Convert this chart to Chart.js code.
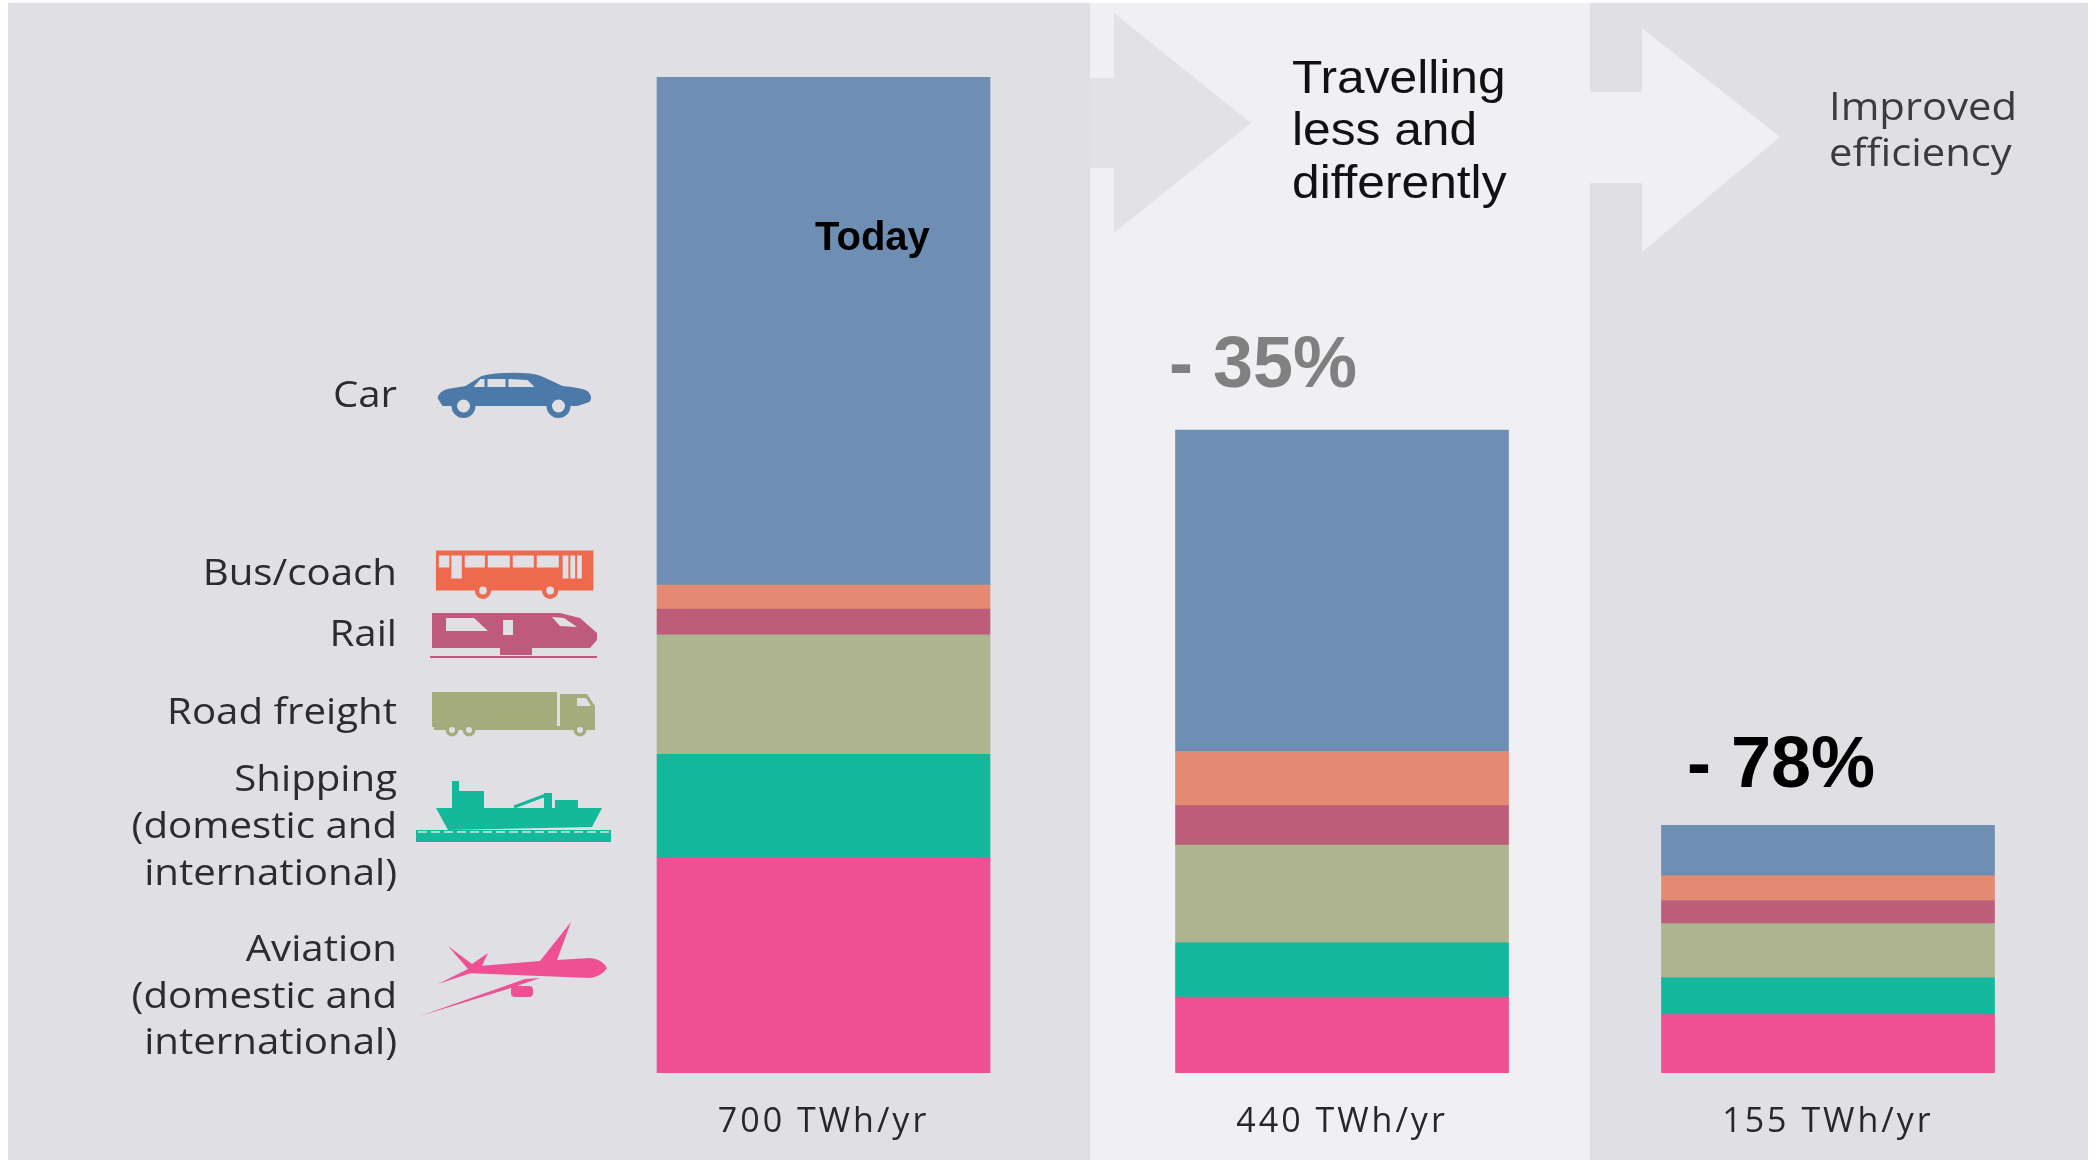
<!DOCTYPE html>
<html lang="en">
<head>
<meta charset="utf-8">
<title>Transport energy demand</title>
<script src="https://cdn.jsdelivr.net/npm/chart.js@4/dist/chart.umd.min.js"></script>
<style>
  html, body { margin: 0; padding: 0; background: #ffffff; }
  canvas { display: block; }
</style>
</head>
<body>
<canvas id="chart" width="2099" height="1160"></canvas>
<script>
// Energy demand by transport mode, TWh per year, for each stage
const stages = ['Today', 'Travelling less and differently', 'Improved efficiency'];
const stageTotals = [700, 440, 155];
const totalLabels = ['700 TWh/yr', '440 TWh/yr', '155 TWh/yr'];
const reductions = ['', '- 35%', '- 78%'];

const modes = ['Aviation', 'Shipping', 'Road freight', 'Rail', 'Bus/coach', 'Car'];
const aviation = [151, 52, 36.5];
const shipping = [73, 37, 23];
const roadFreight = [84, 67, 34];
const rail = [18, 27, 14.5];
const busCoach = [17, 37, 15.5];
const car = [357, 220, 31.5];
const modeValues = [aviation, shipping, roadFreight, rail, busCoach, car];
const modeColours = ['#ef4f93', '#12b79c', '#adb48f', '#bc5d79', '#e58a72', '#6e8fb3'];

// Each column has its own vertical scale; the columns are sized for comparison, not to one ruler
const stageSlots = [0, 1.0324, 2];
const axisTops = [700, 681.6, 623.5];
const axisIds = ['yToday', 'yTravel', 'yEfficiency'];

const datasets = [];
stages.forEach((stage, s) => {
  modes.forEach((mode, m) => {
    datasets.push({
      label: mode + ' – ' + stage,
      data: [{ x: stageSlots[s], y: modeValues[m][s] }],
      backgroundColor: modeColours[m],
      yAxisID: axisIds[s],
      stack: axisIds[s],
      barThickness: 333,
      grouped: false
    });
  });
});

const hiddenAxis = top => ({ display: false, stacked: true, min: 0, max: top });

const PAGE = '#e0e0e4';
const PALE = '#f0f0f4';

// Two-tone backdrop with the step arrows between the columns
const backdrop = {
  id: 'backdrop',
  beforeDraw(chart) {
    const c = chart.ctx;
    c.save();
    c.fillStyle = '#ffffff';
    c.fillRect(0, 0, 2099, 1160);
    c.fillStyle = PAGE;
    c.fillRect(8, 3, 2080, 1157);
    c.fillStyle = PALE;
    c.fillRect(1090, 3, 500, 1157);
    c.fillStyle = '#e2e2e6';
    poly(c, [[1090, 78], [1114, 78], [1114, 13], [1251, 123], [1114, 233], [1114, 168], [1090, 168]]);
    c.fillStyle = PALE;
    poly(c, [[1590, 92], [1642, 92], [1642, 28], [1780, 137], [1642, 252], [1642, 183], [1590, 183]]);
    c.restore();
    // the axis captions below the columns are set slightly open
    c.letterSpacing = '3px';
  }
};

function poly(c, pts) {
  c.beginPath();
  pts.forEach((p, i) => (i ? c.lineTo(p[0], p[1]) : c.moveTo(p[0], p[1])));
  c.closePath();
  c.fill();
}

function wheel(c, x, y, r, hole, colour, holeColour) {
  c.fillStyle = colour;
  c.beginPath(); c.arc(x, y, r, 0, Math.PI * 2); c.fill();
  c.fillStyle = holeColour;
  c.beginPath(); c.arc(x, y, hole, 0, Math.PI * 2); c.fill();
}

// Silhouettes of the transport modes, one local drawing per mode
const icons = {
  car(c) {
    const col = '#4c7aa8';
    c.fillStyle = col;
    c.beginPath();
    c.moveTo(0, 25);
    c.quadraticCurveTo(2, 18, 10, 16);
    c.lineTo(28, 13);
    c.lineTo(44, 3);
    c.quadraticCurveTo(60, -1, 85, 0);
    c.quadraticCurveTo(100, 0, 110, 6);
    c.lineTo(125, 13);
    c.quadraticCurveTo(145, 15, 150, 18);
    c.quadraticCurveTo(156, 24, 152, 29);
    c.lineTo(140, 33);
    c.lineTo(5, 33);
    c.closePath();
    c.fill();
    c.fillStyle = PAGE;
    poly(c, [[36, 14], [43, 6], [47, 6], [47, 14]]);
    c.fillRect(50, 6, 18, 8);
    poly(c, [[71, 6], [90, 7], [97, 14], [71, 14]]);
    wheel(c, 26, 33, 12, 6.5, col, PAGE);
    wheel(c, 121, 33, 12, 6.5, col, PAGE);
  },
  bus(c) {
    c.scale(0.96, 1);
    const col = '#ee6a4f';
    c.fillStyle = col;
    c.fillRect(2, 0, 164, 40);
    c.fillStyle = PAGE;
    [[5, 11], [32, 21], [56, 23], [82, 22], [107, 23]].forEach(w => c.fillRect(w[0], 5, w[1], 12));
    [[18, 11], [134, 6], [142, 5], [149, 5]].forEach(d => c.fillRect(d[0], 5, d[1], 23));
    wheel(c, 51, 40, 8.5, 4, col, PAGE);
    wheel(c, 121, 40, 8.5, 4, col, PAGE);
  },
  train(c) {
    const col = '#c05a7c';
    c.fillStyle = col;
    poly(c, [[2, 0], [130, 0], [150, 5], [167, 20], [167, 27], [160, 35], [2, 35]]);
    c.fillRect(70, 34, 32, 8);
    c.fillRect(0, 43, 167, 2);
    c.fillStyle = PAGE;
    poly(c, [[16, 5], [44, 5], [58, 18], [16, 18]]);
    c.fillRect(73, 7, 10, 15);
    poly(c, [[122, 4], [134, 5], [147, 14], [130, 13]]);
  },
  truck(c) {
    const col = '#a4ab7c';
    c.fillStyle = col;
    c.fillRect(0, 0, 125, 35);
    c.fillRect(2, 34, 160, 4);
    poly(c, [[128, 2], [155, 2], [163, 14], [163, 38], [128, 38]]);
    c.fillStyle = PAGE;
    poly(c, [[145, 6], [154, 6], [159, 14], [145, 14]]);
    wheel(c, 20, 38, 6.5, 3, col, PAGE);
    wheel(c, 37, 38, 6.5, 3, col, PAGE);
    wheel(c, 148, 38, 6.5, 3, col, PAGE);
  },
  ship(c) {
    const col = '#14b89b';
    c.fillStyle = col;
    c.fillRect(0, 49, 195, 12);
    poly(c, [[20, 27], [186, 27], [176, 46], [32, 49]]);
    c.fillRect(36, 0, 7, 12);
    c.fillRect(36, 10, 32, 18);
    c.fillRect(139, 19, 23, 9);
    c.fillRect(128, 12, 8, 16);
    c.strokeStyle = col;
    c.lineWidth = 3;
    c.beginPath(); c.moveTo(98, 26); c.lineTo(130, 14); c.stroke();
    c.strokeStyle = PAGE;
    c.lineWidth = 1.5;
    c.setLineDash([9, 4]);
    c.beginPath(); c.moveTo(2, 51); c.lineTo(193, 51); c.stroke();
  },
  plane(c) {
    c.fillStyle = '#ef4f93';
    c.beginPath();
    c.moveTo(187, 46);
    c.quadraticCurveTo(182, 37, 170, 36);
    c.lineTo(137, 38);
    c.lineTo(151, 0);
    c.lineTo(120, 39);
    c.lineTo(59, 44);
    c.lineTo(45, 51);
    c.lineTo(170, 56);
    c.quadraticCurveTo(182, 54, 187, 46);
    c.closePath();
    c.fill();
    poly(c, [[105, 57], [0, 94], [91, 66], [120, 56]]);
    poly(c, [[28, 24], [52, 42], [68, 31], [60, 48], [18, 62], [48, 47]]);
    c.beginPath();
    c.roundRect(91, 64, 22, 11, 4);
    c.fill();
  }
};

const iconBoxes = [
  ['car', 437.5, 373],
  ['bus', 434, 550.5],
  ['train', 430, 613],
  ['truck', 432, 692],
  ['ship', 416, 781],
  ['plane', 420, 922]
];

const legendRows = [
  ['Car', 397],
  ['Bus/coach', 575],
  ['Rail', 636],
  ['Road freight', 714],
  ['Shipping', 781],
  ['(domestic and', 828],
  ['international)', 875],
  ['Aviation', 951],
  ['(domestic and', 998],
  ['international)', 1044]
];

// Text widened a little beyond the font's natural set width
function text(c, str, x, y, font, colour, align, widen) {
  c.save();
  c.font = font;
  c.fillStyle = colour;
  c.textAlign = align || 'left';
  c.textBaseline = 'middle';
  c.translate(x, y);
  c.scale(widen || 1, 1);
  c.fillText(str, 0, 0);
  c.restore();
}

// Mode key on the left and the stage captions above the columns
const annotations = {
  id: 'annotations',
  afterDraw(chart) {
    const c = chart.ctx;
    c.save();
    c.letterSpacing = '0px';
    iconBoxes.forEach(b => {
      c.save();
      c.translate(b[1], b[2]);
      icons[b[0]](c);
      c.restore();
    });
    const keyFont = '36px "Open Sans"';
    legendRows.forEach(r => text(c, r[0], 397, r[1], keyFont, '#2b2b30', 'right', 1.117));

    text(c, stages[0], 815, 239, 'bold 40px "Liberation Sans"', '#000000');
    const capFont = '46px "Liberation Sans"';
    ['Travelling', 'less and', 'differently'].forEach((line, i) => {
      text(c, line, 1292, [80, 132, 185][i], capFont, '#111111', 'left', 1.08);
    });
    const sideFont = '38px "Open Sans"';
    ['Improved', 'efficiency'].forEach((line, i) => {
      text(c, line, 1829, [109, 155][i], sideFont, '#3a3a40', 'left', 1.1);
    });
    text(c, reductions[1], 1169, 367, 'bold 72px "Liberation Sans"', '#808080');
    text(c, reductions[2], 1687, 767, 'bold 72px "Liberation Sans"', '#000000');
    c.restore();
  }
};

new Chart(document.getElementById('chart'), {
  type: 'bar',
  data: { datasets },
  plugins: [backdrop, annotations],
  options: {
    responsive: false,
    animation: false,
    events: [],
    layout: { padding: { left: 572.4, right: 19.9, top: 77, bottom: 0 } },
    plugins: { legend: { display: false }, tooltip: { enabled: false } },
    scales: {
      x: {
        type: 'linear',
        stacked: true,
        offset: false,
        min: -0.5,
        max: 2.5,
        grid: { display: false },
        border: { display: false },
        afterBuildTicks: scale => { scale.ticks = stageSlots.map(value => ({ value })); },
        afterFit: scale => { scale.height = 87; },
        ticks: {
          autoSkip: false,
          maxRotation: 0,
          padding: 21,
          color: '#26262b',
          font: { family: '"Open Sans"', size: 34 },
          callback: (value, i) => totalLabels[i]
        }
      },
      yToday: hiddenAxis(axisTops[0]),
      yTravel: hiddenAxis(axisTops[1]),
      yEfficiency: hiddenAxis(axisTops[2])
    }
  }
});
</script>
</body>
</html>
